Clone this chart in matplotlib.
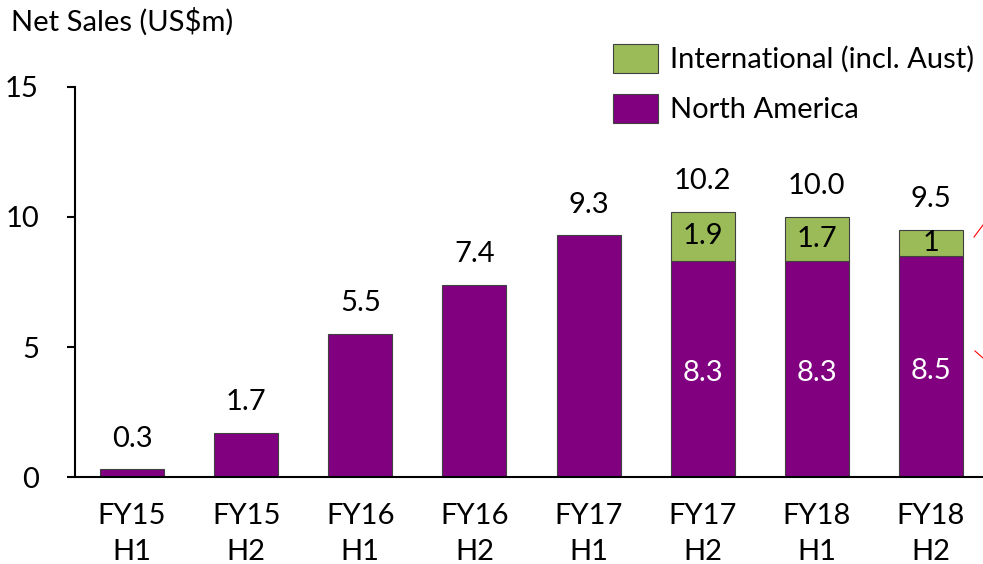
import matplotlib
matplotlib.use('Agg')
import matplotlib.pyplot as plt
from matplotlib.patches import Patch
from matplotlib.lines import Line2D

plt.rcParams['font.family'] = ['Lato', 'DejaVu Sans']

# data
periods = ['FY15\nH1', 'FY15\nH2', 'FY16\nH1', 'FY16\nH2',
           'FY17\nH1', 'FY17\nH2', 'FY18\nH1', 'FY18\nH2']
north_america = [0.3, 1.7, 5.5, 7.4, 9.3, 8.3, 8.3, 8.5]
international = [0, 0, 0, 0, 0, 1.9, 1.7, 1.0]
totals = ['0.3', '1.7', '5.5', '7.4', '9.3', '10.2', '10.0', '9.5']
na_labels = ['', '', '', '', '', '8.3', '8.3', '8.5']
intl_labels = ['', '', '', '', '', '1.9', '1.7', '1']

purple = '#800080'
green = '#9BBB59'
fs = 21

fig = plt.figure(figsize=(9.83, 5.64), dpi=100)
ax = fig.add_axes([75 / 983, 87 / 564, 913 / 983, 390 / 564])

x = list(range(len(periods)))
b1 = ax.bar(x, north_america, width=0.56, color=purple, edgecolor='#404040', linewidth=0.8)
b2 = ax.bar(x, international, width=0.56, bottom=north_america, color=green,
            edgecolor='#404040', linewidth=0.8)
# hide empty green bars
for rect, v in zip(b2, international):
    if v == 0:
        rect.set_visible(False)

for i in x:
    top = north_america[i] + international[i]
    ax.annotate(totals[i], (i, top), xytext=(0, 22), textcoords='offset points',
                ha='center', va='center', fontsize=fs)
    if na_labels[i]:
        ax.annotate(na_labels[i], (i, north_america[i] / 2), xytext=(0, -3),
                    textcoords='offset points', ha='center', va='center',
                    fontsize=fs, color='white')
    if intl_labels[i]:
        ax.text(i, north_america[i] + international[i] / 2, intl_labels[i],
                ha='center', va='center', fontsize=fs, color='black')

ax.set_xlim(-0.5, len(periods) - 0.5)
ax.set_ylim(0, 15)
ax.set_yticks([0, 5, 10, 15])
ax.set_xticks(x)
ax.set_xticklabels(periods, fontsize=fs, linespacing=1.45)
ax.tick_params(axis='x', length=0, pad=19)
ax.tick_params(axis='y', length=6, width=1.5, pad=20, labelsize=fs, direction='out')
for s in ['top', 'right']:
    ax.spines[s].set_visible(False)
ax.spines['left'].set_linewidth(1.5)
ax.spines['bottom'].set_linewidth(1.5)

fig.text(11 / 983, 1 - 22 / 564, 'Net Sales (US$m)', fontsize=fs, va='center', ha='left')

handles = [Patch(facecolor=green, edgecolor='#404040', linewidth=0.8),
           Patch(facecolor=purple, edgecolor='#404040', linewidth=0.8)]
fig.legend(handles, ['International (incl. Aust)', 'North America'],
           loc='upper left', bbox_to_anchor=(604 / 983, 1 - 35 / 564),
           frameon=False, fontsize=fs, handlelength=1.55, handleheight=1.15,
           handletextpad=0.4, labelspacing=0.72, borderaxespad=0, borderpad=0.3)

# small red marks clipped at the right edge
fig.add_artist(Line2D([974 / 983, 983 / 983], [1 - 237 / 564, 1 - 225 / 564],
                      color='red', linewidth=0.8))
fig.add_artist(Line2D([975 / 983, 983 / 983], [1 - 351 / 564, 1 - 358 / 564],
                      color='red', linewidth=0.8))

plt.savefig('out.png', dpi=100)
